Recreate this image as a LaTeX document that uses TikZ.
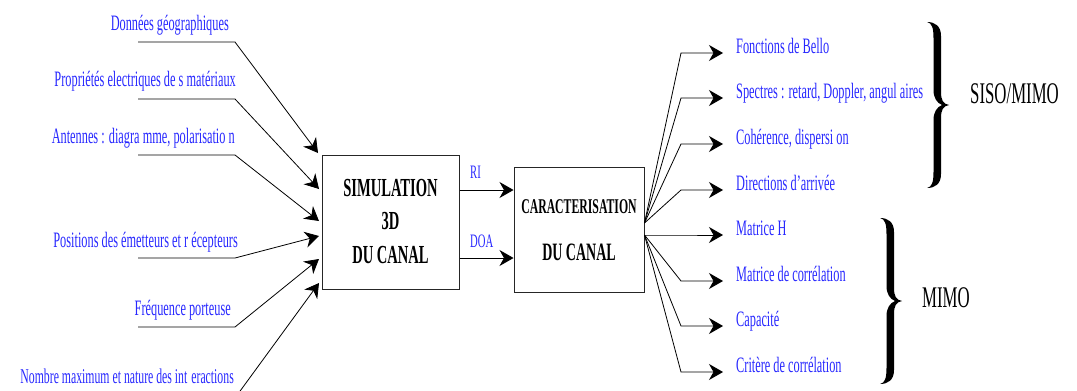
\documentclass[tikz,border=0pt]{standalone}
\usepackage{fontspec}
\setmainfont[FakeStretch=0.56]{Liberation Serif}
\usetikzlibrary{arrows.meta}
\definecolor{lblue}{RGB}{40,40,255}
\begin{document}
\begin{tikzpicture}[x=1pt,y=-1pt,
  lab/.style={text=lblue, font=\fontsize{22}{26}\selectfont, inner sep=0pt},
  ltxt/.style={lab, anchor=base east},
  rtxt/.style={lab, anchor=base west},
  arr/.style={-{Stealth[length=14pt,width=16pt,inset=4.5pt]}, line width=0.8pt},
  boxst/.style={draw=black!85, line width=1pt, inner sep=0pt},
  btxt/.style={anchor=base, inner sep=0pt, font=\bfseries\fontsize{26}{30}\selectfont},
  bigbrace/.pic={\fill (0,0) .. controls (8,0) and (14,4) .. (14,14) -- (14,70)
      .. controls (14,78) and (16,82) .. (22,83)
      .. controls (16,84) and (14,88) .. (14,96) -- (14,152)
      .. controls (14,162) and (8,166) .. (0,166)
      .. controls (5,165) and (6.5,160) .. (6.5,150) -- (6.5,98)
      .. controls (6.5,90) and (10,85) .. (15,83)
      .. controls (10,81) and (6.5,76) .. (6.5,68) -- (6.5,16)
      .. controls (6.5,6) and (5,1) .. (0,0) -- cycle;}]
\useasboundingbox (0,0) rectangle (1077,391);

% boxes
\node[boxst, minimum width=137pt, minimum height=134pt] (sim) at (390.5,222) {};
\node[btxt] (sim1) at (390.5,196) {SIMULATION};
\node[btxt] (sim2) at (390.5,229) {3D};
\node[btxt] (sim3) at (390.5,263) {DU CANAL};
\node[boxst, minimum width=130pt, minimum height=125pt] (car) at (579,229.5) {};
\node[btxt, font=\bfseries\fontsize{21}{25}\selectfont] (car1) at (579,213) {CARACTERISATION};
\node[btxt, font=\bfseries\fontsize{25}{29}\selectfont] (car2) at (579,260) {DU CANAL};

% left labels
\node[ltxt] (l1) at (229,30) {Données géographiques};
\node[ltxt] (l2) at (236,86) {Propriétés electriques de s matériaux};
\node[ltxt] (l3) at (235,143) {Antennes : diagra mme, polarisatio n};
\node[ltxt] (l4) at (238,247) {Positions des émetteurs et r écepteurs};
\node[ltxt] (l5) at (231,315) {Fréquence porteuse};
\node[ltxt, font=\fontsize{21}{25}\selectfont] (l6) at (234,383) {Nombre maximum et nature des int\hspace{4pt}eractions};

\coordinate (lb) at (235,0);
\coordinate (s1) at (138,42);
\coordinate (s2) at (138,99);
\coordinate (s3) at (138,155);
\coordinate (s4) at (138,258);
\coordinate (s5) at (138,327);
\coordinate (s6) at (138,398);
\coordinate (e1) at (318,153);
\coordinate (e2) at (319,189);
\coordinate (e3) at (319,221);
\coordinate (e4) at (319,236);
\coordinate (e5) at (319,259);
\coordinate (e6) at (319,283);
\foreach \i in {1,...,6}{
  \draw[arr] (s\i) -- (lb |- s\i) -- (e\i);
}

% middle
\node[lab, anchor=base west, font=\fontsize{19}{22}\selectfont] (ri) at (470,178) {RI};
\node[lab, anchor=base west, font=\fontsize{19}{22}\selectfont] (doa) at (470,247) {DOA};
\draw[arr] (sim.east |- 0,190) -- (car.west |- 0,190);
\draw[arr] (sim.east |- 0,258) -- (car.west |- 0,258);

% right labels
\node[rtxt] (r1) at (736,53) {Fonctions de Bello};
\node[rtxt] (r2) at (736,98) {Spectres : retard, Doppler, angul aires};
\node[rtxt] (r3) at (736,144) {Cohérence, dispersi on};
\node[rtxt] (r4) at (736,190) {Directions d’arrivée};
\node[rtxt] (r5) at (736,235) {Matrice H};
\node[rtxt] (r6) at (736,281) {Matrice de corrélation};
\node[rtxt] (r7) at (736,326) {Capacité};
\node[rtxt] (r8) at (736,372) {Critère de corrélation};

\coordinate (o1) at (car.east |- 0,223);
\coordinate (o2) at (car.east |- 0,235);
\coordinate (rb) at (681,0);
\foreach \i/\y in {1/53,2/98,3/144,4/190}{
  \coordinate (t\i) at (723,\y);
  \draw[arr] (o1) -- (rb |- t\i) -- (t\i);
}
\foreach \i/\y in {5/235,6/281,7/326,8/372}{
  \coordinate (t\i) at (723,\y);
  \draw[arr] (o2) -- (rb |- t\i) -- (t\i);
}

% braces
\pic at (927,22) {bigbrace};
\pic at (880,218) {bigbrace};
\node[anchor=base west, inner sep=0pt, font=\fontsize{30}{34}\selectfont] (siso) at (970,103) {SISO/MIMO};
\node[anchor=base west, inner sep=0pt, font=\fontsize{30}{34}\selectfont] (mimo) at (922,307) {MIMO};
\end{tikzpicture}
\end{document}
